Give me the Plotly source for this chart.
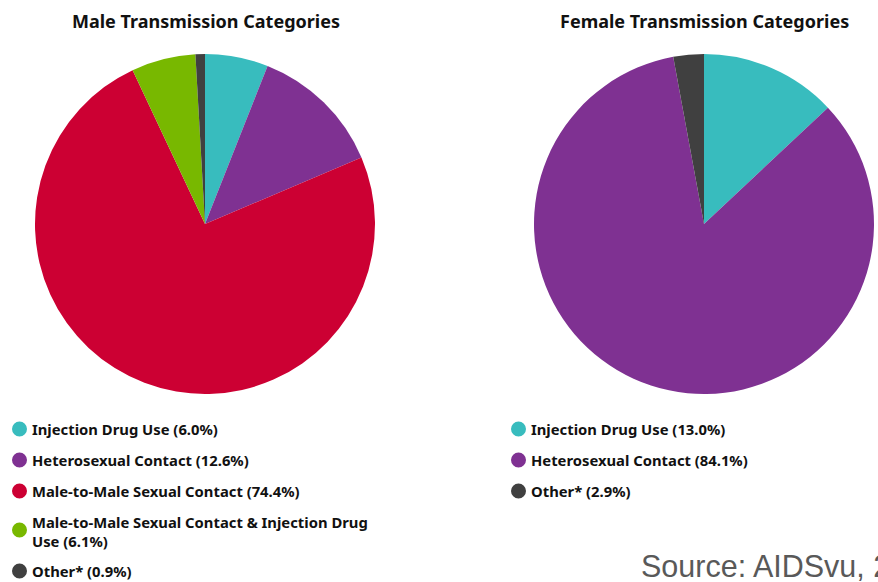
import plotly.graph_objects as go

W, H = 878, 582

# Transmission categories and shares (%)
male_labels = ["Injection Drug Use", "Heterosexual Contact", "Male-to-Male Sexual Contact",
               "Male-to-Male Sexual Contact & Injection Drug Use", "Other*"]
male_values = [6.0, 12.6, 74.4, 6.1, 0.9]
male_colors = ["#38bcbe", "#7f3192", "#cc0033", "#78b800", "#404040"]

female_labels = ["Injection Drug Use", "Heterosexual Contact", "Other*"]
female_values = [13.0, 84.1, 2.9]
female_colors = ["#38bcbe", "#7f3192", "#404040"]

# Legend text lines (wrapped where the label is long)
male_legend_text = ["Injection Drug Use (6.0%)", "Heterosexual Contact (12.6%)",
                    "Male-to-Male Sexual Contact (74.4%)",
                    "Male-to-Male Sexual Contact & Injection Drug<br>Use (6.1%)",
                    "Other* (0.9%)"]
female_legend_text = ["Injection Drug Use (13.0%)", "Heterosexual Contact (84.1%)",
                      "Other* (2.9%)"]


def px(x):
    return x / W


def py(y):
    return 1 - y / H


fig = go.Figure()

R = 170
for cx, labels, values, colors in [(205, male_labels, male_values, male_colors),
                                   (704, female_labels, female_values, female_colors)]:
    fig.add_trace(go.Pie(
        labels=labels, values=values, sort=False, direction="clockwise", rotation=0,
        marker=dict(colors=colors, line=dict(width=0)),
        textinfo="none", hoverinfo="label+percent", showlegend=False,
        domain=dict(x=[px(cx - R), px(cx + R)], y=[py(224 + R), py(224 - R)]),
    ))

font_bold = "Noto Sans"
annotations = [
    dict(text="<b>Male Transmission Categories</b>", x=px(205.5), y=py(21), xref="paper", yref="paper",
         showarrow=False, xanchor="center", yanchor="middle",
         font=dict(family=font_bold, size=18, color="#111111")),
    dict(text="<b>Female Transmission Categories</b>", x=px(704), y=py(21), xref="paper", yref="paper",
         showarrow=False, xanchor="center", yanchor="middle",
         font=dict(family=font_bold, size=18, color="#111111")),
    dict(text="Source: AIDSvu, 2", x=px(639), y=py(566), xref="paper", yref="paper",
         showarrow=False, xanchor="left", yanchor="middle",
         font=dict(family="Liberation Sans", size=30.5, color="#595959")),
]

shapes = []
male_rows = [429, 460, 491, 531, 571]
male_dots = [429, 460, 491, 530, 571]
for text, color, ty in zip(male_legend_text, male_colors, male_rows):
    annotations.append(dict(text="<b>%s</b>" % text, x=px(30), y=py(ty), xref="paper", yref="paper",
                            showarrow=False, xanchor="left", yanchor="middle", align="left",
                            font=dict(family=font_bold, size=14.8, color="#111111")))
for color, dy in zip(male_colors, male_dots):
    shapes.append(dict(type="circle", xref="paper", yref="paper", x0=px(12), x1=px(27),
                       y0=py(dy + 7.5), y1=py(dy - 7.5), fillcolor=color, line=dict(width=0)))

female_rows = [429, 460, 491]
for text, color, ty in zip(female_legend_text, female_colors, female_rows):
    annotations.append(dict(text="<b>%s</b>" % text, x=px(529), y=py(ty), xref="paper", yref="paper",
                            showarrow=False, xanchor="left", yanchor="middle", align="left",
                            font=dict(family=font_bold, size=14.8, color="#111111")))
    shapes.append(dict(type="circle", xref="paper", yref="paper", x0=px(511), x1=px(526),
                       y0=py(ty + 7.5), y1=py(ty - 7.5), fillcolor=color, line=dict(width=0)))

fig.update_layout(
    width=W, height=H, margin=dict(l=0, r=0, t=0, b=0),
    paper_bgcolor="white", plot_bgcolor="white",
    annotations=annotations, shapes=shapes,
)

fig.write_html("out.html")
